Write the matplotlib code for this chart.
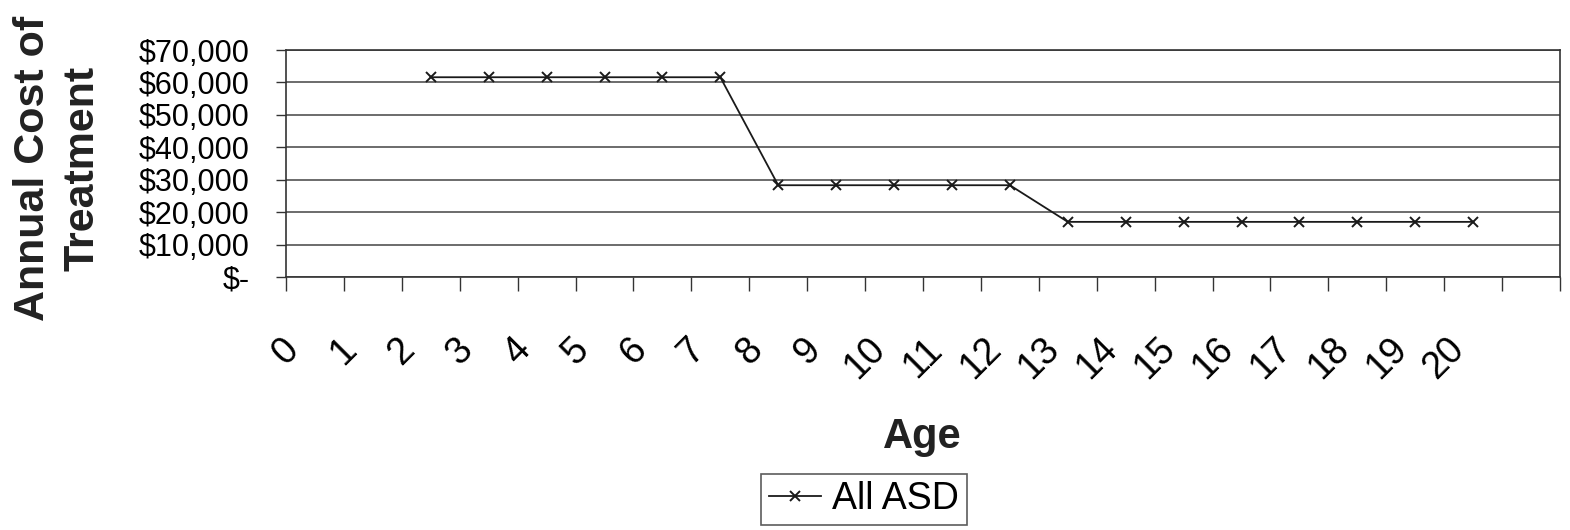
from matplotlib import pyplot as plt

plt.rcParams["font.family"] = ["Liberation Sans", "DejaVu Sans"]

# 数据
ages = [2, 3, 4, 5, 6, 7, 8, 9, 10, 11, 12, 13, 14, 15, 16, 17, 18, 19, 20]
cost = [61600, 61600, 61600, 61600, 61600, 61600,
        28300, 28300, 28300, 28300, 28300,
        17000, 17000, 17000, 17000, 17000, 17000, 17000, 17000]
age_labels = [str(a) for a in range(21)] + ["", ""]
y_ticks = [0, 10000, 20000, 30000, 40000, 50000, 60000, 70000]
y_labels = ["$-", "$10,000", "$20,000", "$30,000", "$40,000", "$50,000", "$60,000", "$70,000"]

fig = plt.figure(figsize=(15.7, 5.3), dpi=100)
ax = fig.add_axes([286 / 1570, 1 - 277 / 530, 1274 / 1570, 227 / 530])

# 点在两个刻度之间
ax.plot([a + 0.5 for a in ages], cost, color="#1a1a1a", lw=1.3,
        marker="x", ms=6.5, mew=1.4, label="All ASD", clip_on=False)

ax.set_xlim(0, 22)
ax.set_ylim(0, 70000)
ax.set_xticks(range(23))
ax.set_xticklabels(age_labels, rotation=45, ha="center", fontsize=27)
ax.set_yticks(y_ticks)
ax.set_yticklabels(y_labels, fontsize=22)
ax.tick_params(axis="x", length=10, width=1, color="#333333", pad=29)
ax.tick_params(axis="y", length=7, width=1, color="#333333", pad=19)

ax.grid(axis="y", color="#444444", lw=1.1)
ax.set_axisbelow(True)
for s in ax.spines.values():
    s.set_color("#333333")
    s.set_linewidth(1.2)

fig.text(58 / 1570, 1 - 168 / 530, "Annual Cost of\nTreatment", rotation=90,
         ha="center", va="center", multialignment="center",
         fontsize=31, fontweight="bold", color="#222222", linespacing=1.3)
fig.text(922 / 1570, 1 - 437 / 530, "Age", ha="center", va="center",
         fontsize=30, fontweight="bold", color="#222222")

leg = fig.legend(loc="center", bbox_to_anchor=(864 / 1570, 1 - 499 / 530),
                 fontsize=27, frameon=True, fancybox=False, handlelength=1.4,
                 handletextpad=0.3, borderpad=0.2, borderaxespad=0)
leg.get_frame().set_edgecolor("#333333")
leg.get_frame().set_linewidth(1.2)

plt.savefig("out.png", dpi=100)
